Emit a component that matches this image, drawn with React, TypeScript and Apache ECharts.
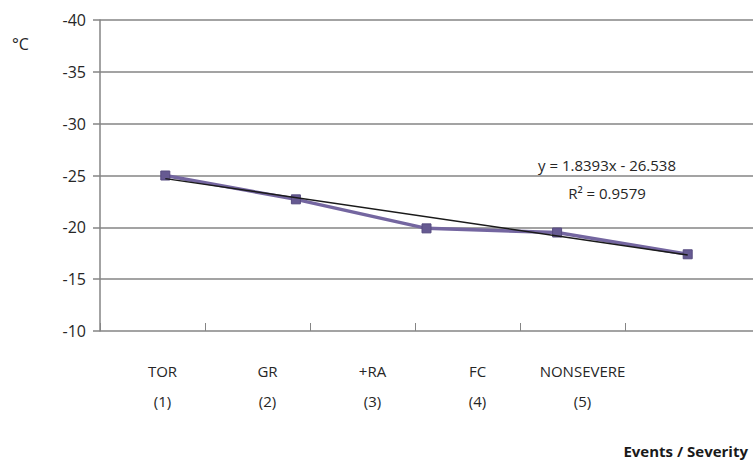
import React, { useEffect, useRef } from "react";
import * as echarts from "echarts";

const categories = ["TOR\n(1)", "GR\n(2)", "+RA\n(3)", "FC\n(4)", "NONSEVERE\n(5)"];
const tempValues = [-25.0, -22.7, -19.9, -19.5, -17.4];
const trendSlope = 1.8393;
const trendIntercept = -26.538;
const yTicks = { min: -40, max: -10, interval: 5 };
const trendValues = categories.map((_, i) => (i === 0 || i === categories.length - 1 ? +(trendSlope * (i + 1) + trendIntercept).toFixed(3) : null));

const FONT = "'Open Sans', 'Liberation Sans', sans-serif";
const TXT = "#262626";
const GRID = "#858585";

export default function App() {
  const ref = useRef<HTMLDivElement>(null);
  useEffect(() => {
    if (!ref.current) return;
    const chart = echarts.init(ref.current, undefined, { renderer: "svg" });
    chart.setOption({
      animation: false,
      backgroundColor: "#ffffff",
      grid: [
        { left: 100, top: 20, width: 525, height: 311 },
        { left: 100, top: 20, width: 657, height: 311 },
      ],
      xAxis: [
        {
          type: "category",
          gridIndex: 0,
          data: categories,
          boundaryGap: true,
          axisLine: { show: false },
          axisTick: { show: true, inside: true, interval: 0, length: 8, lineStyle: { color: GRID, width: 1 } },
          axisLabel: {
            interval: 0,
            hideOverlap: false,
            color: TXT,
            fontFamily: FONT,
            fontSize: 15,
            lineHeight: 30,
            margin: 25,
            padding: [0, 0, 0, 20],
          },
        },
        {
          type: "category",
          gridIndex: 1,
          data: categories,
          boundaryGap: true,
          show: false,
        },
      ],
      yAxis: [
        {
          type: "value",
          gridIndex: 0,
          min: yTicks.min,
          max: yTicks.max,
          interval: yTicks.interval,
          inverse: true,
          show: false,
        },
        {
          type: "value",
          gridIndex: 1,
          min: yTicks.min,
          max: yTicks.max,
          interval: yTicks.interval,
          inverse: true,
          axisLine: { show: true, lineStyle: { color: GRID, width: 1.5 } },
          axisTick: { show: true, length: 7, lineStyle: { color: GRID, width: 1.5 } },
          axisLabel: { color: TXT, fontFamily: FONT, fontSize: 16, margin: 14 },
          splitLine: { show: true, lineStyle: { color: GRID, width: 1.5 } },
        },
      ],
      series: [
        {
          type: "line",
          xAxisIndex: 1,
          yAxisIndex: 1,
          data: tempValues,
          symbol: "rect",
          symbolSize: 9,
          lineStyle: { color: "#7466a0", width: 3.5 },
          itemStyle: { color: "#665a92", borderColor: "#574c80", borderWidth: 1 },
          z: 3,
        },
        {
          type: "line",
          xAxisIndex: 1,
          yAxisIndex: 1,
          data: trendValues,
          connectNulls: true,
          symbol: "none",
          lineStyle: { color: "#1a1a1a", width: 1.5 },
          z: 4,
        },
      ],
      graphic: [
        { type: "text", left: 12, top: 36, style: { text: "°C", fill: TXT, font: `16px ${FONT}` } },
        {
          type: "text",
          x: 607,
          y: 165,
          style: { text: `y = ${trendSlope}x - ${Math.abs(trendIntercept)}`, fill: TXT, font: `15px ${FONT}`, align: "center", verticalAlign: "middle" },
        },
        {
          type: "text",
          x: 607,
          y: 193,
          style: { text: "R² = 0.9579", fill: TXT, font: `15px ${FONT}`, align: "center", verticalAlign: "middle" },
        },
        {
          type: "text",
          x: 748,
          y: 451,
          style: { text: "Events / Severity", fill: "#1a1a1a", font: `bold 15px ${FONT}`, align: "right", verticalAlign: "middle" },
        },
      ],
    });
    return () => chart.dispose();
  }, []);
  return <div ref={ref} style={{ position: "fixed", left: 0, top: 0, width: 753, height: 468 }} />;
}
